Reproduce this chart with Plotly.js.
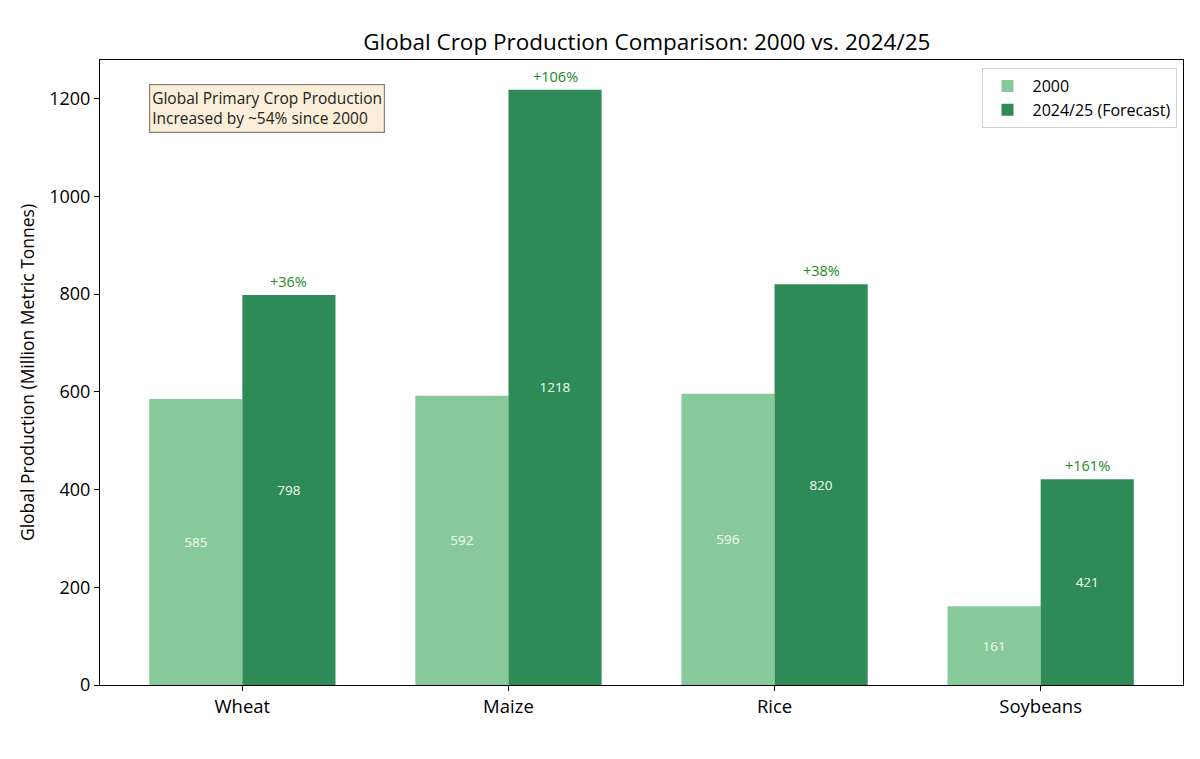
<!DOCTYPE html>
<html>
<head>
<meta charset="utf-8">
<script src="https://cdn.plot.ly/plotly-3.0.1.min.js"></script>
<style>html,body{margin:0;padding:0;background:#fff;}#chart{width:1200px;height:759px;}</style>
</head>
<body>
<div id="chart"></div>
<script>
const crops = ["Wheat", "Maize", "Rice", "Soybeans"];
const prod2000 = [585, 592, 596, 161];
const prod2024 = [798, 1218, 820, 421];
const seriesNames = ["2000", "2024/25 (Forecast)"];
const yTicks = [0, 200, 400, 600, 800, 1000, 1200];

const FONT = "'Open Sans', Lato, sans-serif";
const pctLabels = prod2000.map((v, i) => "+" + Math.round((prod2024[i] - v) / v * 100) + "%");

const traces = [
  {
    type: "bar", name: seriesNames[0], x: crops, y: prod2000,
    marker: {color: "#88c999"},
    text: prod2000.map(String), textposition: "inside", insidetextanchor: "middle",
    textfont: {color: "#f4fbf4", size: 13.5, family: FONT}, textangle: 0,
    hoverinfo: "x+y"
  },
  {
    type: "bar", name: seriesNames[1], x: crops, y: prod2024,
    marker: {color: "#2e8b57"},
    text: prod2024.map(String), textposition: "inside", insidetextanchor: "middle",
    textfont: {color: "#f4fbf4", size: 13.5, family: FONT}, textangle: 0,
    hoverinfo: "x+y"
  }
];

const annotations = crops.map((c, i) => ({
  x: i + 0.175, y: prod2024[i], xref: "x", yref: "y",
  text: pctLabels[i], showarrow: false, yanchor: "bottom", yshift: 2,
  font: {color: "#228b22", size: 14.5, family: FONT}
}));
annotations.push({
  xref: "paper", yref: "paper", x: 0.045, y: 0.962, xanchor: "left", yanchor: "top",
  text: "Global Primary Crop Production<br>Increased by ~54% since 2000",
  showarrow: false, align: "left",
  font: {size: 15.5, color: "#222", family: FONT},
  bgcolor: "#fbefd9", bordercolor: "#8a8070", borderwidth: 1.2, borderpad: 2
});

const layout = {
  width: 1200, height: 759,
  margin: {l: 100, r: 17, t: 60, b: 74},
  paper_bgcolor: "#ffffff", plot_bgcolor: "#ffffff",
  font: {family: FONT, color: "#000"},
  title: {text: "Global Crop Production Comparison: 2000 vs. 2024/25", x: 0.539, xanchor: "center", y: 0.945, yanchor: "middle",
    font: {size: 22.5, color: "#000", family: FONT}},
  barmode: "group", bargap: 0.3, bargroupgap: 0,
  xaxis: {
    type: "category", range: [-0.535, 3.535],
    showline: true, mirror: true, linecolor: "#000", linewidth: 1,
    ticks: "outside", ticklen: 5, tickcolor: "#000",
    tickfont: {size: 18.5, family: FONT, color: "#000"},
    showgrid: false, zeroline: false
  },
  yaxis: {
    range: [0, 1278.9], tickvals: yTicks, ticktext: yTicks.map(String),
    showline: true, mirror: true, linecolor: "#000", linewidth: 1,
    ticks: "outside", ticklen: 5, tickcolor: "#000",
    tickfont: {size: 18, family: FONT, color: "#000"},
    showgrid: false, zeroline: false,
    title: {text: "Global Production (Million Metric Tonnes)", font: {size: 17.5, family: FONT, color: "#000"}, standoff: 10}
  },
  legend: {
    x: 0.994, y: 0.987, xanchor: "right", yanchor: "top",
    bgcolor: "rgba(255,255,255,0.8)", bordercolor: "#d0d0d0", borderwidth: 1,
    font: {size: 16, family: FONT, color: "#000"}, itemwidth: 40
  },
  annotations: annotations,
  showlegend: true
};

Plotly.newPlot("chart", traces, layout, {displayModeBar: false, responsive: false});
</script>
</body>
</html>
